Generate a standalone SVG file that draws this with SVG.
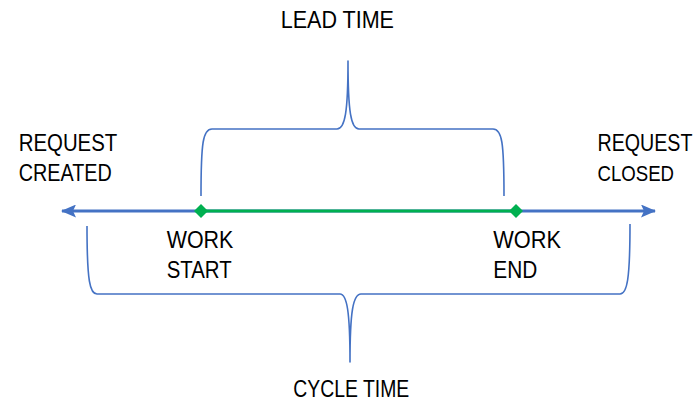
<svg xmlns="http://www.w3.org/2000/svg" width="700" height="401" viewBox="0 0 700 401">
<defs>
<style>
.lbl{font-family:"Liberation Sans",Arial,sans-serif;font-size:23px;fill:#000}
.brace{fill:none;stroke:#4472C4;stroke-width:1.6;stroke-linejoin:round}
</style>
<marker id="arr" viewBox="0 0 15 13" refX="14" refY="6.5" markerWidth="15" markerHeight="13" markerUnits="userSpaceOnUse" orient="auto-start-reverse">
<path d="M0,0 L15,6.5 L0,13 L3,6.5 Z" fill="#4472C4"/>
</marker>
</defs>
<rect width="700" height="401" fill="#fff"/>
<g id="connectors">
<line x1="62" y1="211" x2="655" y2="211" stroke="#4472C4" stroke-width="3" marker-start="url(#arr)" marker-end="url(#arr)"/>
<line x1="201" y1="211" x2="516" y2="211" stroke="#00B050" stroke-width="3"/>
<path id="lead-brace" class="brace" d="M201,196 C201,142 203,129 212,129 L337,129 C345,129 348,112 348,61 C348,112 351,129 359,129 L493,129 C502,129 504,142 504,196"/>
<path id="cycle-brace" class="brace" d="M87,226 C87,282 90,294 97,294 L340,294 C347,294 350,312 350,362 C350,312 353,294 361,294 L620,294 C627,294 630,280 630,224"/>
</g>
<g id="work-start-node">
<polygon points="201,204 208,211 201,218 194,211" fill="#00B050"/>
<text class="lbl" x="166.7" y="248.3" textLength="66.6" lengthAdjust="spacingAndGlyphs">WORK</text>
<text class="lbl" x="166.7" y="278.3" textLength="65" lengthAdjust="spacingAndGlyphs">START</text>
</g>
<g id="work-end-node">
<polygon points="516,204 523,211 516,218 509,211" fill="#00B050"/>
<text class="lbl" x="493.3" y="248.3" textLength="67.7" lengthAdjust="spacingAndGlyphs">WORK</text>
<text class="lbl" x="493.3" y="278.3" textLength="44" lengthAdjust="spacingAndGlyphs">END</text>
</g>
<g id="request-created">
<text class="lbl" x="18.7" y="150.7" textLength="98.6" lengthAdjust="spacingAndGlyphs">REQUEST</text>
<text class="lbl" x="18.7" y="180.7" textLength="93" lengthAdjust="spacingAndGlyphs">CREATED</text>
</g>
<g id="request-closed">
<text class="lbl" transform="translate(597.5,150.7) scale(0.855,1)">REQUEST</text>
<text class="lbl" transform="translate(597.5,180.7) scale(0.81,1)">CLOSED</text>
</g>
<g id="lead-time">
<text class="lbl" x="280.7" y="28.3" textLength="113.3" lengthAdjust="spacingAndGlyphs">LEAD TIME</text>
</g>
<g id="cycle-time">
<text class="lbl" x="293.3" y="396.7" textLength="116" lengthAdjust="spacingAndGlyphs">CYCLE TIME</text>
</g>
</svg>
